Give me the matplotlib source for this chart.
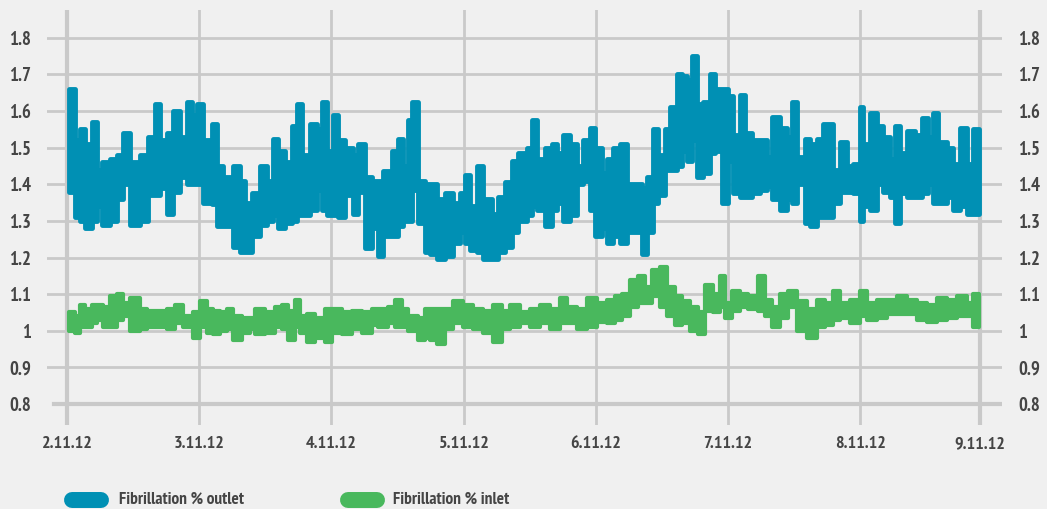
import matplotlib
matplotlib.use("Agg")
import matplotlib.pyplot as plt
from matplotlib.lines import Line2D

plt.rcParams['font.family'] = ['PT Sans Narrow', 'DejaVu Sans']
plt.rcParams['font.weight'] = 'bold'

# hours since 2.11.12 00:00, with the upper / lower extent of each trace
outlet_hours = [
    0.3, 1.5, 2.4, 3.3, 4.5, 5.5, 6.4, 7.8, 9.1, 10.2, 11.4, 13.3,
    14.7, 16.0, 16.9, 18.2, 19.2, 20.5, 21.8, 22.7, 23.6, 24.7, 26.3, 27.2,
    28.3, 30.1, 31.4, 32.3, 33.6, 35.0, 36.3, 37.4, 38.3, 39.6, 40.9, 41.8,
    42.7, 44.1, 45.4, 46.3, 47.2, 48.3, 49.2, 50.5, 51.9, 52.8, 54.1, 55.4,
    56.5, 57.4, 59.0, 60.1, 61.0, 61.9, 62.6, 63.7, 65.0, 65.9, 67.2, 68.6,
    70.1, 71.4, 72.3, 73.2, 74.4, 75.5, 77.2, 78.2, 79.5, 80.8, 81.9, 83.5,
    84.4, 85.3, 86.8, 88.1, 89.0, 90.0, 91.3, 92.6, 93.7, 95.0, 95.9, 97.1,
    98.0, 99.1, 100.4, 101.7, 102.8, 104.4, 105.3, 106.4, 107.3, 108.6, 109.5, 110.8,
    111.7, 112.6, 113.5, 114.4, 115.5, 116.7, 117.7, 118.9, 120.0, 120.9, 122.2, 123.1,
    124.4, 125.8, 127.1, 128.0, 129.4, 130.7, 131.6, 132.5, 134.0, 134.9, 136.2, 137.3,
    139.1, 140.3, 141.6, 142.7, 144.0, 144.5, 145.8, 147.1, 148.1, 149.4, 150.3, 151.2,
    152.5, 153.9, 155.2, 156.3, 157.2, 158.1, 159.8, 160.8, 162.1, 163.4, 164.5, 165.6,
]
outlet_hi = [
    1.66, 1.52, 1.55, 1.51, 1.57, 1.44, 1.46, 1.47, 1.48, 1.54, 1.46, 1.48,
    1.53, 1.62, 1.52, 1.54, 1.60, 1.53, 1.625, 1.59, 1.62, 1.52, 1.565, 1.45,
    1.42, 1.45, 1.41, 1.35, 1.375, 1.45, 1.41, 1.525, 1.49, 1.46, 1.56, 1.62,
    1.48, 1.565, 1.55, 1.625, 1.49, 1.59, 1.52, 1.50, 1.48, 1.51, 1.42, 1.41,
    1.41, 1.435, 1.49, 1.525, 1.45, 1.575, 1.625, 1.41, 1.40, 1.40, 1.36, 1.375,
    1.35, 1.375, 1.425, 1.34, 1.45, 1.36, 1.32, 1.365, 1.405, 1.465, 1.485, 1.50,
    1.575, 1.47, 1.50, 1.51, 1.485, 1.535, 1.51, 1.45, 1.52, 1.555, 1.50, 1.43,
    1.47, 1.50, 1.51, 1.40, 1.40, 1.39, 1.42, 1.55, 1.48, 1.55, 1.61, 1.70,
    1.695, 1.685, 1.75, 1.62, 1.625, 1.70, 1.66, 1.66, 1.64, 1.535, 1.645, 1.54,
    1.52, 1.52, 1.475, 1.585, 1.555, 1.53, 1.625, 1.475, 1.525, 1.51, 1.525, 1.565,
    1.44, 1.515, 1.45, 1.455, 1.61, 1.51, 1.595, 1.56, 1.53, 1.47, 1.56, 1.485,
    1.545, 1.535, 1.58, 1.53, 1.595, 1.515, 1.50, 1.455, 1.555, 1.455, 1.55, 1.55,
]
outlet_lo = [
    1.38, 1.31, 1.30, 1.28, 1.30, 1.34, 1.29, 1.30, 1.36, 1.40, 1.29, 1.30,
    1.37, 1.37, 1.39, 1.32, 1.38, 1.42, 1.40, 1.40, 1.40, 1.35, 1.345, 1.285,
    1.285, 1.23, 1.215, 1.215, 1.26, 1.29, 1.30, 1.315, 1.28, 1.295, 1.30, 1.315,
    1.315, 1.33, 1.385, 1.33, 1.315, 1.315, 1.31, 1.37, 1.32, 1.38, 1.225, 1.28,
    1.205, 1.26, 1.26, 1.285, 1.30, 1.30, 1.385, 1.295, 1.215, 1.21, 1.195, 1.205,
    1.24, 1.27, 1.24, 1.22, 1.215, 1.195, 1.195, 1.215, 1.23, 1.27, 1.30, 1.315,
    1.34, 1.33, 1.285, 1.33, 1.35, 1.30, 1.315, 1.40, 1.41, 1.33, 1.26, 1.28,
    1.24, 1.26, 1.24, 1.27, 1.27, 1.21, 1.27, 1.35, 1.37, 1.44, 1.44, 1.45,
    1.49, 1.465, 1.52, 1.42, 1.43, 1.485, 1.49, 1.35, 1.465, 1.375, 1.365, 1.365,
    1.375, 1.385, 1.395, 1.36, 1.33, 1.36, 1.35, 1.40, 1.295, 1.285, 1.31, 1.31,
    1.35, 1.38, 1.38, 1.375, 1.30, 1.34, 1.33, 1.40, 1.38, 1.365, 1.295, 1.375,
    1.365, 1.365, 1.375, 1.40, 1.35, 1.35, 1.365, 1.33, 1.34, 1.32, 1.32, 1.32,
]

inlet_hours = [
    0.3, 1.5, 2.4, 3.3, 4.5, 5.5, 6.5, 7.8, 9.1, 10.2, 11.4, 13.3,
    14.5, 16.3, 18.2, 19.6, 21.1, 22.9, 24.2, 25.4, 26.5, 27.8, 29.1, 30.1,
    31.8, 33.2, 34.1, 36.0, 37.8, 39.0, 40.1, 41.4, 42.3, 43.6, 45.0, 46.8,
    48.1, 49.9, 51.7, 53.6, 55.4, 56.5, 58.3, 59.6, 60.8, 61.9, 63.7, 65.0,
    65.9, 67.2, 68.6, 70.1, 71.9, 73.7, 75.5, 77.3, 79.0, 80.4, 82.2, 84.1,
    85.9, 87.7, 89.5, 90.8, 92.6, 94.4, 96.2, 98.0, 99.5, 100.8, 102.2, 103.7,
    104.9, 106.2, 107.7, 108.9, 110.4, 111.7, 113.1, 114.6, 115.8, 117.3, 118.6, 119.5,
    120.7, 122.2, 123.6, 125.4, 126.7, 128.0, 129.4, 130.9, 132.5, 134.3, 136.2, 137.6,
    139.1, 140.3, 142.2, 144.0, 145.2, 147.1, 148.9, 150.7, 152.5, 154.3, 156.1, 157.9,
    159.8, 161.6, 163.4, 164.5, 165.6,
]
inlet_hi = [
    1.05, 1.04, 1.07, 1.06, 1.07, 1.07, 1.065, 1.095, 1.10, 1.075, 1.09, 1.06,
    1.055, 1.055, 1.06, 1.07, 1.04, 1.05, 1.08, 1.06, 1.055, 1.05, 1.06, 1.04,
    1.035, 1.035, 1.06, 1.05, 1.065, 1.07, 1.055, 1.085, 1.04, 1.045, 1.035, 1.06,
    1.06, 1.05, 1.055, 1.05, 1.06, 1.06, 1.065, 1.085, 1.06, 1.04, 1.035, 1.06,
    1.06, 1.06, 1.06, 1.08, 1.07, 1.06, 1.055, 1.07, 1.055, 1.07, 1.05, 1.06,
    1.07, 1.06, 1.09, 1.065, 1.06, 1.09, 1.075, 1.085, 1.095, 1.10, 1.14, 1.15,
    1.12, 1.165, 1.175, 1.12, 1.095, 1.08, 1.065, 1.05, 1.125, 1.10, 1.15, 1.075,
    1.11, 1.10, 1.095, 1.15, 1.085, 1.065, 1.10, 1.11, 1.08, 1.06, 1.085, 1.075,
    1.11, 1.075, 1.085, 1.11, 1.075, 1.085, 1.085, 1.095, 1.085, 1.075, 1.07, 1.09,
    1.085, 1.095, 1.075, 1.10, 1.10,
]
inlet_lo = [
    1.00, 0.995, 1.01, 1.01, 1.02, 1.03, 1.01, 1.01, 1.03, 1.04, 1.00, 1.005,
    1.01, 1.01, 1.005, 1.02, 1.01, 0.98, 1.01, 0.995, 0.99, 1.00, 1.005, 0.975,
    0.995, 1.005, 0.99, 0.995, 1.01, 1.005, 0.975, 1.01, 0.995, 0.97, 0.98, 0.97,
    0.995, 0.99, 1.005, 0.995, 1.015, 1.01, 1.02, 1.01, 1.01, 1.00, 0.975, 0.98,
    0.975, 0.965, 1.005, 1.02, 1.01, 1.005, 0.995, 0.97, 1.005, 1.01, 1.02, 1.01,
    1.02, 1.005, 1.02, 1.02, 1.005, 1.01, 1.025, 1.02, 1.03, 1.04, 1.065, 1.075,
    1.075, 1.095, 1.065, 1.04, 1.015, 1.02, 1.00, 0.99, 1.055, 1.05, 1.065, 1.035,
    1.055, 1.065, 1.06, 1.055, 1.04, 1.01, 1.035, 1.065, 1.00, 0.98, 1.01, 1.015,
    1.03, 1.035, 1.02, 1.04, 1.03, 1.035, 1.045, 1.045, 1.045, 1.03, 1.025, 1.03,
    1.035, 1.04, 1.04, 1.01, 1.01,
]

tick_hours = [0, 24, 48, 72, 96, 120, 144, 165.75]
tick_labels = ['2.11.12', '3.11.12', '4.11.12', '5.11.12', '6.11.12',
               '7.11.12', '8.11.12', '9.11.12']
y_ticks = [0.8, 0.9, 1.0, 1.1, 1.2, 1.3, 1.4, 1.5, 1.6, 1.7, 1.8]
y_labels = ['0.8', '0.9', '1', '1.1', '1.2', '1.3', '1.4', '1.5', '1.6', '1.7', '1.8']

bg = '#f0f0f0'
grid = '#c9c9c9'
txt = '#454545'
blue = '#0090b4'
green = '#49b85d'

fig = plt.figure(figsize=(10.47, 5.09), dpi=100, facecolor=bg)
ax = fig.add_axes([0.0449, 0.165, 0.9121, 0.815])
ax.set_facecolor(bg)
ax.set_xlim(-3.63, 169.74)
ax.set_ylim(0.7427, 1.8755)
for s in ax.spines.values():
    s.set_visible(False)

# grid
for v in y_ticks[1:]:
    ax.axhline(v, color=grid, lw=2.0, zorder=0)
ax.axhline(0.8, xmin=0.007, xmax=0.998, color=grid, lw=3.0, zorder=0)
for i, h in enumerate(tick_hours):
    w = 3.0 if i in (0, len(tick_hours) - 1) else 2.0
    ax.axvline(h, color=grid, lw=w, zorder=0)

# the two traces (thick rounded edge like the original heavy line)
pc = ax.fill_between(outlet_hours, outlet_lo, outlet_hi, step='post',
                     facecolor=blue, edgecolor=blue, lw=3.5, zorder=3)
pc.set_joinstyle('round')
pc2 = ax.fill_between(inlet_hours, inlet_lo, inlet_hi, step='post',
                      facecolor=green, edgecolor=green, lw=3.0, zorder=3)
pc2.set_joinstyle('round')

ax.set_xticks(tick_hours)
ax.set_xticklabels(tick_labels)
ax.set_yticks(y_ticks)
ax.set_yticklabels(y_labels)
ax.tick_params(axis='x', length=0, pad=8, labelsize=13, labelcolor=txt)
ax.tick_params(axis='y', length=0, pad=11.5, labelsize=13.5, labelcolor=txt,
               labelleft=True, labelright=True)
for lab in ax.get_yticklabels() + ax.get_xticklabels():
    lab.set_fontweight('bold')

# legend pills
fig.add_artist(Line2D([0.0688, 0.0965], [0.0177, 0.0177], color=blue,
                      lw=11.5, solid_capstyle='round', transform=fig.transFigure))
fig.text(0.1137, 0.0177, 'Fibrillation % outlet', color=txt, fontsize=12.5,
         fontweight='bold', va='center', ha='left')
fig.add_artist(Line2D([0.3324, 0.3601], [0.0177, 0.0177], color=green,
                      lw=11.5, solid_capstyle='round', transform=fig.transFigure))
fig.text(0.3754, 0.0177, 'Fibrillation % inlet', color=txt, fontsize=12.5,
         fontweight='bold', va='center', ha='left')

fig.savefig('out.png', dpi=100, facecolor=bg)
